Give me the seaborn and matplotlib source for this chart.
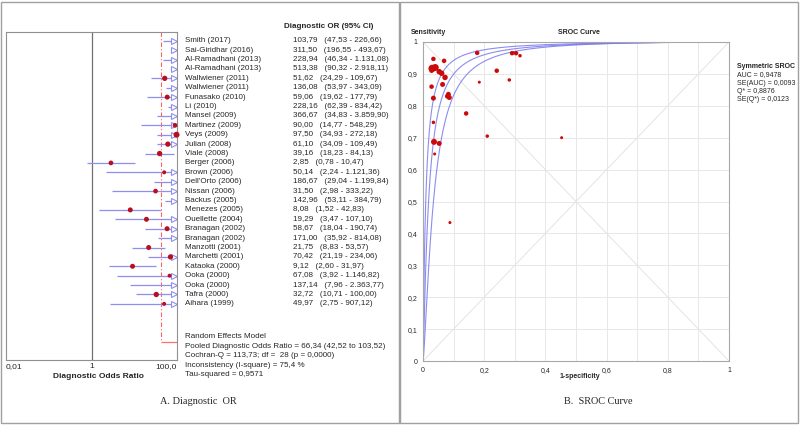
import numpy as np
import pandas as pd
import matplotlib
matplotlib.use("Agg")
import matplotlib.pyplot as plt
import matplotlib.transforms as mtransforms
from matplotlib.patches import Rectangle
import seaborn as sns

# forest plot data (diagnostic OR, 95% CI)
studies = ["Smith (2017)", "Sai-Giridhar (2016)", "Al-Ramadhani (2013)", "Al-Ramadhani (2013)",
           "Wallwiener (2011)", "Wallwiener (2011)", "Funasako (2010)", "Li (2010)", "Mansel (2009)",
           "Martinez (2009)", "Veys (2009)", "Julian (2008)", "Viale (2008)", "Berger (2006)",
           "Brown (2006)", "Dell'Orto (2006)", "Nissan (2006)", "Backus (2005)", "Menezes (2005)",
           "Ouellette (2004)", "Branagan (2002)", "Branagan (2002)", "Manzotti (2001)",
           "Marchetti (2001)", "Kataoka (2000)", "Ooka (2000)", "Ooka (2000)", "Tafra (2000)",
           "Aihara (1999)"]
dor = [103.79, 311.50, 228.94, 513.38, 51.62, 136.08, 59.06, 228.16, 366.67, 90.00, 97.50, 61.10,
       39.16, 2.85, 50.14, 186.67, 31.50, 142.96, 8.08, 19.29, 58.67, 171.00, 21.75, 70.42, 9.12,
       67.08, 137.14, 32.72, 49.97]
dor_lo = [47.53, 196.55, 46.34, 90.32, 24.29, 53.97, 19.62, 62.39, 34.83, 14.77, 34.93, 34.09,
          18.23, 0.78, 2.24, 29.04, 2.98, 53.11, 1.52, 3.47, 18.04, 35.92, 8.83, 21.19, 2.60,
          3.92, 7.96, 10.71, 2.75]
dor_hi = [226.66, 493.67, 1131.08, 2918.11, 109.67, 343.09, 177.79, 834.42, 3859.90, 548.29,
          272.18, 109.49, 84.13, 10.47, 1121.36, 1199.84, 333.22, 384.79, 42.83, 107.10, 190.74,
          814.08, 53.57, 234.06, 31.97, 1146.82, 2363.77, 100.00, 907.12]
dor_weight = [5, 5, 5, 5, 5.3, 5, 5, 5, 5, 4.7, 6, 5.3, 5.3, 4.7, 4, 5, 4.7, 5, 5, 5, 5, 5, 5,
              5.3, 5, 4, 5, 5.3, 4]
pooled_lo = 42.52
pooled_stats = ["Random Effects Model",
                "Pooled Diagnostic Odds Ratio = 66,34 (42,52 to 103,52)",
                "Cochran-Q = 113,73; df =  28 (p = 0,0000)",
                "Inconsistency (I-square) = 75,4 %",
                "Tau-squared = 0,9571"]

# SROC data
fpr = [0.034, 0.069, 0.177, 0.291, 0.304, 0.317, 0.030, 0.040, 0.028, 0.053, 0.061, 0.072, 0.064,
       0.028, 0.034, 0.083, 0.086, 0.080, 0.241, 0.184, 0.282, 0.141, 0.210, 0.453, 0.034, 0.036,
       0.053, 0.038, 0.088]
sens = [0.947, 0.941, 0.966, 0.965, 0.965, 0.957, 0.917, 0.920, 0.910, 0.907, 0.902, 0.889, 0.867,
        0.860, 0.824, 0.836, 0.826, 0.830, 0.910, 0.874, 0.881, 0.776, 0.705, 0.700, 0.748, 0.687,
        0.682, 0.649, 0.434]
sroc_weight = [4.5, 4.5, 4.5, 4.5, 4.5, 3.5, 7.5, 7, 4.5, 5.5, 5.5, 5.5, 5, 4.5, 5, 5, 5, 5, 4.5,
               3, 3.5, 4.5, 3.5, 3, 3.5, 6, 5, 3, 3]
# SROC curves as logit(sens) = a + b * logit(fpr): upper, fitted, lower
sroc_a = [5.23, 4.87, 4.68]
sroc_b = [1.11, 1.22, 1.40]
sroc_stats = ["AUC = 0,9478", "SE(AUC) = 0,0093", "Q* = 0,8876", "SE(Q*) = 0,0123"]


def fmt(v):
    return f"{v:,.2f}".replace(",", "X").replace(".", ",").replace("X", ".")


sns.set_style("white")
plt.rcParams['font.family'] = ['Liberation Sans', 'DejaVu Sans']

W, H = 800, 425
fig = plt.figure(figsize=(8, 4.25), dpi=100)

def fx(px):
    return px / W

def fy(py):
    return 1 - py / H

grey = "#a0a0a0"
red = "#b80f1e"
blue = "#8f8ff0"

# panel frames
for x0 in (1, 400):
    fig.patches.append(Rectangle((fx(x0), fy(423)), fx(398), 421 / H, transform=fig.transFigure,
                                 fill=False, edgecolor=grey, lw=1))

# ---------------- forest plot ----------------
ax = fig.add_axes([fx(6), fy(360), fx(171), 328 / H])
n = len(studies)
rows = np.arange(n)
ax.set_xscale("log")
ax.set_xlim(0.01, 100)
ax.set_ylim(33.97, -0.93)
for sp in ax.spines.values():
    sp.set_color("#909090")
    sp.set_linewidth(0.8)
ax.axvline(1, color="#707070", lw=0.9)

ax.vlines(pooled_lo, -0.93, 32.05, color="#ff6060", lw=0.8, linestyles=(0, (4, 2, 1, 2)))
ax.hlines(32.05, pooled_lo, 100, color="#ff7070", lw=0.9)

lo_c = np.clip(dor_lo, 0.01, 100)
hi_c = np.clip(dor_hi, 0.01, 100)
ax.hlines(rows, lo_c, hi_c, color=blue, lw=0.9)
arrow = np.array(dor_hi) >= 100
shift = mtransforms.offset_copy(ax.transData, fig=fig, x=-3, y=0, units='dots')
ax.plot(np.full(arrow.sum(), 100.0), rows[arrow], ls="none", marker=">", ms=4.3, mfc="white",
        mec=blue, mew=0.8, transform=shift, clip_on=False)

fd = pd.DataFrame({"dor": dor, "row": rows, "s": (np.array(dor_weight) * 0.72) ** 2})
fd = fd[fd["dor"] < 100]
sns.scatterplot(data=fd, x="dor", y="row", size="s", sizes=(fd.s.min(), fd.s.max()),
                size_norm=(fd.s.min(), fd.s.max()), color=red, edgecolor="none", legend=False,
                ax=ax, clip_on=False, zorder=3)
ax.set_xlabel("")
ax.set_ylabel("")
ax.set_yticks([])
ax.set_xticks([0.01, 1, 100])
ax.set_xticks([], minor=True)
ax.set_xticklabels(["0,01", "1", "100,0"], fontsize=6)
ax.tick_params(axis="x", length=0, pad=2)
tl = ax.get_xticklabels()
tl[0].set_ha("left")
tl[2].set_ha("right")

tr = mtransforms.blended_transform_factory(fig.transFigure, ax.transData)
for i in range(n):
    ax.text(fx(185), i, studies[i], transform=tr, fontsize=5.8, va="center", clip_on=False)
    ax.text(fx(293), i, f"{fmt(dor[i])}   ({fmt(dor_lo[i])} - {fmt(dor_hi[i])})", transform=tr,
            fontsize=5.8, va="center", clip_on=False)
fig.text(fx(284), fy(27), "Diagnostic OR (95% CI)", fontsize=5.8, fontweight="bold", va="center")
for k, s in enumerate(pooled_stats):
    fig.text(fx(185), fy(337 + 9.4 * k), s, fontsize=5.8, va="center")
fig.text(fx(98), fy(376), "Diagnostic Odds Ratio", fontsize=6, fontweight="bold",
         ha="center", va="center")

fig.text(fx(198), fy(402), "A. Diagnostic  OR", fontsize=7.4, family="Liberation Serif",
         ha="center", va="center")

# ---------------- SROC ----------------
ax2 = fig.add_axes([fx(423), fy(361), fx(306), 319 / H])
ax2.set_xlim(0, 1)
ax2.set_ylim(0, 1)
ax2.set_xticks(np.arange(0, 1.01, 0.2))
ax2.set_xticks(np.arange(0, 1.01, 0.1), minor=True)
ax2.set_yticks(np.arange(0, 1.01, 0.1))
lab = lambda v: "0" if v < 1e-9 else ("1" if v > 0.999 else f"{v:.1f}".replace(".", ","))
ax2.set_xticklabels([lab(v) for v in np.arange(0, 1.01, 0.2)], fontsize=5)
ax2.set_yticklabels([lab(v) for v in np.arange(0, 1.01, 0.1)], fontsize=5)
ax2.tick_params(which="both", length=0, pad=4)
ax2.grid(True, which="both", color="#e8e8e8", lw=0.7)
ax2.set_axisbelow(True)
for sp in ax2.spines.values():
    sp.set_color("#a8a8a8")
    sp.set_linewidth(0.8)
ax2.plot([0, 1], [0, 1], color="#e4e4e4", lw=0.7, zorder=1)
ax2.plot([0, 1], [1, 0], color="#e4e4e4", lw=0.7, zorder=1)

xg = np.geomspace(1e-5, 0.99999, 600)
curves = []
for k in range(len(sroc_a)):
    lg = sroc_a[k] + sroc_b[k] * np.log(xg / (1 - xg))
    curves.append(pd.DataFrame({"fpr": np.r_[0, xg], "sens": np.r_[0, 1 / (1 + np.exp(-lg))],
                                "curve": k}))
cd = pd.concat(curves)
sns.lineplot(data=cd, x="fpr", y="sens", units="curve", estimator=None, sort=False,
             color="#7878ee", lw=0.8, alpha=0.85, ax=ax2)

sd = pd.DataFrame({"fpr": fpr, "sens": sens, "s": (np.array(sroc_weight) * 0.72) ** 2})
sns.scatterplot(data=sd, x="fpr", y="sens", size="s", sizes=(sd.s.min(), sd.s.max()),
                size_norm=(sd.s.min(), sd.s.max()), color="#cc0a0a", edgecolor="none",
                legend=False, ax=ax2, zorder=3)
ax2.set_xlabel("")
ax2.set_ylabel("")

fig.text(fx(411), fy(33), "Sensitivity", fontsize=5, fontweight="bold", va="center")
fig.text(fx(579), fy(33), "SROC Curve", fontsize=5, fontweight="bold", va="center", ha="center")
fig.text(fx(580), fy(376), "1-specificity", fontsize=5, fontweight="bold", va="center",
         ha="center")
fig.text(fx(737), fy(67), "Symmetric SROC", fontsize=5, fontweight="bold", va="center")
for k, s in enumerate(sroc_stats):
    fig.text(fx(737), fy(75 + 8.3 * k), s, fontsize=5, va="center")

fig.text(fx(598), fy(402), "B.  SROC Curve", fontsize=7.4, family="Liberation Serif",
         ha="center", va="center")

fig.savefig("out.png", dpi=100)
